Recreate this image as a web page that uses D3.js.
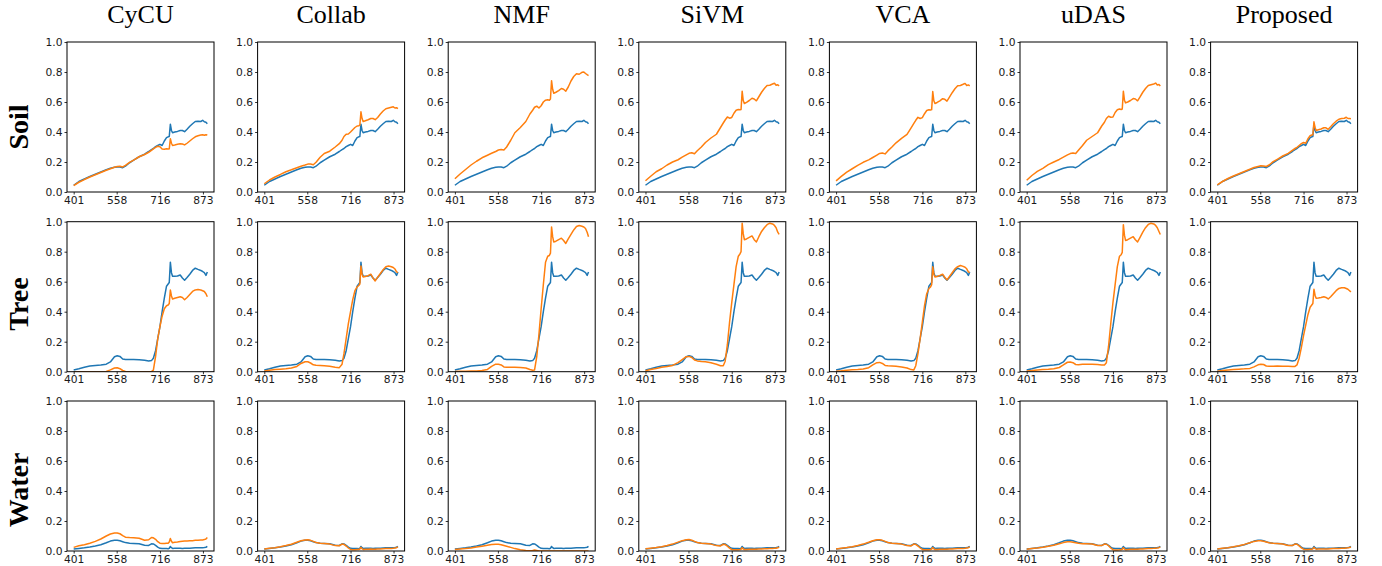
<!DOCTYPE html>
<html>
<head>
<meta charset="utf-8">
<script src="https://cdn.jsdelivr.net/npm/d3@7"></script>
<style>
  html, body { margin: 0; padding: 0; background: #fff; }
  svg { display: block; }
</style>
</head>
<body>
<svg id="chart" width="1382" height="566"></svg>
<script>
// Spectral bands (nm) at which each endmember signature is sampled
const wavelengths = [401, 420, 440, 460, 480, 500, 520, 535, 550, 560, 570, 580, 590, 605, 620, 640, 660, 675, 685, 692,
  700, 708, 716, 724, 732, 740, 746, 750, 754, 758, 762, 770, 780, 790, 798, 806, 815, 825, 835, 845,
  855, 865, 872, 878, 884, 889];

const methods = ["CyCU", "Collab", "NMF", "SiVM", "VCA", "uDAS", "Proposed"];
const materials = ["Soil", "Tree", "Water"];
const xTickValues = [401, 558, 716, 873];
const yTickValues = [0, 0.2, 0.4, 0.6, 0.8, 1.0];

// Reference signatures (blue)
const soilReference = [0.045, 0.07, 0.087, 0.103, 0.118, 0.133, 0.148, 0.158, 0.165, 0.167, 0.166, 0.162, 0.172, 0.195, 0.212, 0.235, 0.252, 0.27, 0.283, 0.29,
  0.302, 0.31, 0.318, 0.31, 0.34, 0.362, 0.368, 0.37, 0.452, 0.41, 0.395, 0.4, 0.404, 0.41, 0.41, 0.402, 0.418, 0.438, 0.455, 0.47,
  0.472, 0.47, 0.478, 0.468, 0.465, 0.455];
const treeReference = [0.012, 0.02, 0.03, 0.038, 0.042, 0.045, 0.05, 0.065, 0.1, 0.106, 0.102, 0.085, 0.082, 0.082, 0.081, 0.079, 0.076, 0.071, 0.074, 0.09,
  0.14, 0.22, 0.3, 0.4, 0.49, 0.57, 0.585, 0.595, 0.73, 0.66, 0.636, 0.636, 0.638, 0.645, 0.625, 0.61, 0.628, 0.65, 0.675, 0.69,
  0.682, 0.675, 0.668, 0.66, 0.642, 0.665];
const waterReference = [0.013, 0.017, 0.021, 0.027, 0.034, 0.042, 0.055, 0.066, 0.072, 0.072, 0.068, 0.062, 0.056, 0.051, 0.05, 0.048, 0.038, 0.037, 0.048, 0.047,
  0.038, 0.026, 0.018, 0.016, 0.016, 0.016, 0.015, 0.018, 0.03, 0.022, 0.017, 0.018, 0.018, 0.019, 0.017, 0.018, 0.018, 0.019, 0.02, 0.021,
  0.021, 0.022, 0.022, 0.023, 0.025, 0.031];

// Estimated signatures (orange), soil
const soilCyCU = [0.042, 0.065, 0.083, 0.1, 0.115, 0.13, 0.145, 0.155, 0.165, 0.17, 0.171, 0.167, 0.178, 0.198, 0.213, 0.235, 0.25, 0.265, 0.277, 0.287,
  0.297, 0.305, 0.302, 0.287, 0.285, 0.288, 0.286, 0.288, 0.355, 0.325, 0.31, 0.313, 0.318, 0.322, 0.32, 0.314, 0.325, 0.34, 0.355, 0.368,
  0.375, 0.38, 0.382, 0.378, 0.382, 0.38];
const soilCollab = [0.055, 0.08, 0.1, 0.117, 0.135, 0.148, 0.162, 0.172, 0.18, 0.186, 0.186, 0.182, 0.198, 0.232, 0.257, 0.272, 0.3, 0.322, 0.345, 0.37,
  0.385, 0.387, 0.4, 0.415, 0.43, 0.44, 0.442, 0.445, 0.535, 0.49, 0.47, 0.475, 0.482, 0.49, 0.49, 0.482, 0.497, 0.52, 0.54, 0.555,
  0.56, 0.565, 0.568, 0.56, 0.562, 0.556];
const soilNMF = [0.088, 0.12, 0.15, 0.18, 0.205, 0.228, 0.245, 0.258, 0.27, 0.28, 0.283, 0.28, 0.3, 0.345, 0.395, 0.43, 0.47, 0.52, 0.545, 0.565,
  0.572, 0.56, 0.575, 0.6, 0.612, 0.615, 0.612, 0.62, 0.742, 0.685, 0.658, 0.665, 0.676, 0.69, 0.685, 0.672, 0.7, 0.74, 0.77, 0.788,
  0.785, 0.798, 0.8, 0.79, 0.782, 0.776];
const soilSiVM = [0.075, 0.105, 0.135, 0.155, 0.18, 0.2, 0.215, 0.232, 0.248, 0.258, 0.262, 0.255, 0.275, 0.3, 0.33, 0.36, 0.385, 0.43, 0.46, 0.48,
  0.5, 0.492, 0.497, 0.525, 0.545, 0.55, 0.548, 0.55, 0.672, 0.61, 0.59, 0.598, 0.61, 0.625, 0.62, 0.608, 0.635, 0.665, 0.69, 0.71,
  0.712, 0.72, 0.725, 0.712, 0.715, 0.708];
const soilVCA = [0.074, 0.104, 0.133, 0.155, 0.178, 0.198, 0.214, 0.23, 0.246, 0.257, 0.26, 0.254, 0.274, 0.3, 0.328, 0.358, 0.384, 0.428, 0.458, 0.478,
  0.498, 0.49, 0.496, 0.522, 0.543, 0.548, 0.546, 0.549, 0.67, 0.608, 0.59, 0.597, 0.608, 0.622, 0.618, 0.606, 0.632, 0.662, 0.688, 0.708,
  0.71, 0.718, 0.724, 0.71, 0.714, 0.707];
const soilUDAS = [0.078, 0.11, 0.137, 0.158, 0.182, 0.2, 0.217, 0.232, 0.247, 0.256, 0.26, 0.256, 0.278, 0.31, 0.345, 0.37, 0.395, 0.44, 0.465, 0.49,
  0.505, 0.498, 0.5, 0.53, 0.548, 0.553, 0.55, 0.553, 0.672, 0.612, 0.594, 0.6, 0.61, 0.623, 0.62, 0.608, 0.634, 0.665, 0.69, 0.71,
  0.715, 0.72, 0.726, 0.714, 0.716, 0.706];
const soilProposed = [0.048, 0.07, 0.09, 0.107, 0.122, 0.137, 0.152, 0.163, 0.17, 0.175, 0.174, 0.17, 0.18, 0.202, 0.218, 0.24, 0.258, 0.278, 0.29, 0.298,
  0.31, 0.322, 0.33, 0.325, 0.355, 0.375, 0.38, 0.382, 0.468, 0.43, 0.41, 0.415, 0.42, 0.428, 0.428, 0.418, 0.435, 0.455, 0.472, 0.485,
  0.49, 0.492, 0.498, 0.49, 0.49, 0.488];

// Estimated signatures (orange), tree
const treeCyCU = [0, 0, 0, 0, 0, 0, 0.002, 0.012, 0.025, 0.026, 0.02, 0.008, 0.002, 0, 0, 0, 0, 0, 0, 0.01,
  0.1, 0.22, 0.3, 0.37, 0.42, 0.44, 0.445, 0.455, 0.545, 0.505, 0.485, 0.49, 0.495, 0.5, 0.495, 0.48, 0.495, 0.515, 0.535, 0.545,
  0.548, 0.545, 0.54, 0.535, 0.52, 0.5];
const treeCollab = [0.005, 0.01, 0.014, 0.017, 0.02, 0.025, 0.035, 0.055, 0.066, 0.066, 0.058, 0.046, 0.043, 0.042, 0.04, 0.036, 0.03, 0.027, 0.05, 0.12,
  0.22, 0.32, 0.4, 0.48, 0.54, 0.565, 0.575, 0.585, 0.705, 0.65, 0.632, 0.635, 0.64, 0.65, 0.625, 0.605, 0.63, 0.655, 0.68, 0.7,
  0.705, 0.7, 0.695, 0.685, 0.665, 0.66];
const treeNMF = [0.002, 0.003, 0.003, 0.004, 0.005, 0.008, 0.015, 0.035, 0.05, 0.05, 0.045, 0.032, 0.029, 0.03, 0.03, 0.028, 0.025, 0.015, 0.01, 0.012,
  0.1, 0.25, 0.42, 0.58, 0.73, 0.77, 0.775, 0.79, 0.965, 0.9, 0.865, 0.87, 0.88, 0.89, 0.875, 0.855, 0.885, 0.915, 0.945, 0.968,
  0.975, 0.97, 0.965, 0.955, 0.93, 0.9];
const treeSiVM = [0.007, 0.015, 0.022, 0.03, 0.035, 0.042, 0.06, 0.08, 0.1, 0.102, 0.095, 0.078, 0.072, 0.068, 0.066, 0.06, 0.05, 0.04, 0.04, 0.07,
  0.18, 0.33, 0.46, 0.58, 0.7, 0.77, 0.785, 0.8, 0.99, 0.92, 0.88, 0.885, 0.895, 0.905, 0.88, 0.865, 0.9, 0.935, 0.96, 0.98,
  0.99, 0.985, 0.975, 0.96, 0.93, 0.915];
const treeVCA = [0.003, 0.006, 0.01, 0.013, 0.015, 0.018, 0.027, 0.045, 0.06, 0.062, 0.055, 0.042, 0.04, 0.038, 0.036, 0.032, 0.025, 0.014, 0.012, 0.04,
  0.12, 0.22, 0.33, 0.44, 0.52, 0.555, 0.565, 0.58, 0.7, 0.65, 0.632, 0.635, 0.642, 0.65, 0.63, 0.612, 0.635, 0.66, 0.685, 0.7,
  0.708, 0.702, 0.696, 0.686, 0.666, 0.66];
const treeUDAS = [0.005, 0.008, 0.012, 0.015, 0.017, 0.02, 0.028, 0.045, 0.063, 0.065, 0.06, 0.048, 0.047, 0.05, 0.05, 0.05, 0.048, 0.045, 0.045, 0.06,
  0.17, 0.32, 0.46, 0.58, 0.7, 0.77, 0.78, 0.795, 0.98, 0.91, 0.875, 0.88, 0.89, 0.9, 0.88, 0.865, 0.895, 0.93, 0.96, 0.982,
  0.99, 0.985, 0.975, 0.96, 0.935, 0.915];
const treeProposed = [0.003, 0.008, 0.012, 0.015, 0.017, 0.019, 0.022, 0.032, 0.046, 0.05, 0.048, 0.038, 0.036, 0.037, 0.038, 0.037, 0.036, 0.035, 0.035, 0.045,
  0.09, 0.16, 0.24, 0.31, 0.38, 0.43, 0.445, 0.455, 0.55, 0.51, 0.49, 0.492, 0.495, 0.5, 0.495, 0.485, 0.5, 0.52, 0.54, 0.555,
  0.56, 0.56, 0.555, 0.55, 0.54, 0.532];

// Estimated signatures (orange), water
const waterCyCU = [0.024, 0.035, 0.042, 0.052, 0.064, 0.08, 0.1, 0.113, 0.12, 0.12, 0.115, 0.103, 0.092, 0.09, 0.089, 0.085, 0.072, 0.075, 0.09, 0.088,
  0.078, 0.062, 0.052, 0.05, 0.05, 0.052, 0.052, 0.06, 0.083, 0.065, 0.055, 0.058, 0.06, 0.063, 0.065, 0.066, 0.067, 0.068, 0.069, 0.071,
  0.072, 0.074, 0.074, 0.076, 0.08, 0.09];
const waterCollab = [0.014, 0.018, 0.022, 0.028, 0.036, 0.045, 0.058, 0.068, 0.074, 0.075, 0.071, 0.064, 0.057, 0.052, 0.05, 0.046, 0.036, 0.035, 0.046, 0.044,
  0.033, 0.02, 0.01, 0.008, 0.008, 0.01, 0.01, 0.013, 0.024, 0.015, 0.01, 0.011, 0.012, 0.013, 0.012, 0.012, 0.013, 0.014, 0.015, 0.016,
  0.016, 0.017, 0.018, 0.02, 0.022, 0.028];
const waterNMF = [0.01, 0.013, 0.016, 0.02, 0.026, 0.032, 0.038, 0.043, 0.045, 0.045, 0.042, 0.037, 0.032, 0.024, 0.016, 0.009, 0.004, 0.002, 0.003, 0.006,
  0.003, 0, 0, 0, 0, 0, 0, 0, 0, 0, 0, 0, 0, 0, 0, 0, 0, 0, 0, 0,
  0, 0, 0, 0, 0, 0];
const waterSiVM = [0.015, 0.019, 0.023, 0.029, 0.037, 0.046, 0.059, 0.069, 0.075, 0.076, 0.072, 0.064, 0.057, 0.052, 0.05, 0.046, 0.036, 0.034, 0.045, 0.043,
  0.032, 0.019, 0.01, 0.008, 0.008, 0.009, 0.01, 0.012, 0.022, 0.014, 0.01, 0.01, 0.011, 0.012, 0.012, 0.012, 0.013, 0.014, 0.015, 0.015,
  0.016, 0.017, 0.018, 0.019, 0.021, 0.026];
const waterVCA = [0.014, 0.018, 0.023, 0.029, 0.037, 0.046, 0.058, 0.068, 0.075, 0.075, 0.071, 0.064, 0.057, 0.052, 0.05, 0.046, 0.036, 0.034, 0.046, 0.044,
  0.033, 0.02, 0.01, 0.008, 0.008, 0.009, 0.01, 0.013, 0.023, 0.014, 0.01, 0.01, 0.011, 0.012, 0.012, 0.012, 0.013, 0.014, 0.015, 0.016,
  0.016, 0.017, 0.018, 0.02, 0.022, 0.027];
const waterUDAS = [0.012, 0.016, 0.02, 0.025, 0.031, 0.038, 0.048, 0.056, 0.061, 0.062, 0.059, 0.055, 0.051, 0.049, 0.048, 0.046, 0.037, 0.036, 0.046, 0.045,
  0.035, 0.02, 0.009, 0.007, 0.007, 0.008, 0.009, 0.012, 0.022, 0.013, 0.009, 0.01, 0.011, 0.012, 0.011, 0.012, 0.013, 0.014, 0.015, 0.016,
  0.017, 0.018, 0.019, 0.02, 0.022, 0.027];
const waterProposed = [0.014, 0.018, 0.022, 0.028, 0.035, 0.044, 0.055, 0.064, 0.068, 0.068, 0.065, 0.06, 0.055, 0.051, 0.05, 0.047, 0.037, 0.036, 0.046, 0.045,
  0.034, 0.021, 0.012, 0.01, 0.01, 0.011, 0.011, 0.014, 0.024, 0.016, 0.012, 0.013, 0.013, 0.014, 0.014, 0.014, 0.015, 0.016, 0.017, 0.017,
  0.018, 0.019, 0.02, 0.021, 0.023, 0.027];

const references = [soilReference, treeReference, waterReference];
const estimates = [
  [soilCyCU, soilCollab, soilNMF, soilSiVM, soilVCA, soilUDAS, soilProposed],
  [treeCyCU, treeCollab, treeNMF, treeSiVM, treeVCA, treeUDAS, treeProposed],
  [waterCyCU, waterCollab, waterNMF, waterSiVM, waterVCA, waterUDAS, waterProposed]
];

// Layout
const panelW = 147, panelH = 150;
const colStart = 67, colStep = 190.6;
const rowTops = [42, 221.7, 401];
const rowLabelCenters = [127, 304, 490];
const blue = "#1f77b4", orange = "#ff7f0e";

const svg = d3.select("#chart");

const wMin = d3.min(wavelengths), wMax = d3.max(wavelengths);
const pad = (wMax - wMin) * 0.05;
const x = d3.scaleLinear().domain([wMin - pad, wMax + pad]).range([0, panelW]);
const y = d3.scaleLinear().domain([0, 1]).range([panelH, 0]);

const line = d3.line()
  .x((d, i) => x(wavelengths[i]))
  .y(d => y(d));

// Method titles
methods.forEach((m, c) => {
  svg.append("text")
    .attr("x", colStart + c * colStep + panelW / 2)
    .attr("y", 23)
    .attr("text-anchor", "middle")
    .attr("font-family", "'Liberation Serif', 'Times New Roman', serif")
    .attr("font-size", 26)
    .attr("fill", "#000")
    .text(m);
});

// Material labels
materials.forEach((name, r) => {
  svg.append("text")
    .attr("transform", `translate(28,${rowLabelCenters[r]}) rotate(-90)`)
    .attr("text-anchor", "middle")
    .attr("font-family", "'Liberation Serif', 'Times New Roman', serif")
    .attr("font-weight", "bold")
    .attr("font-size", 28)
    .attr("fill", "#000")
    .text(name);
});

materials.forEach((name, r) => {
  methods.forEach((m, c) => {
    const g = svg.append("g")
      .attr("transform", `translate(${colStart + c * colStep},${rowTops[r]})`);

    const clipId = `clip-${r}-${c}`;
    g.append("clipPath").attr("id", clipId)
      .append("rect").attr("x", 0).attr("y", -1).attr("width", panelW).attr("height", panelH + 1);

    const plot = g.append("g").attr("clip-path", `url(#${clipId})`);
    plot.append("path")
      .datum(references[r])
      .attr("d", line)
      .attr("fill", "none")
      .attr("stroke", blue)
      .attr("stroke-width", 1.5)
      .attr("stroke-linejoin", "round");
    plot.append("path")
      .datum(estimates[r][c])
      .attr("d", line)
      .attr("fill", "none")
      .attr("stroke", orange)
      .attr("stroke-width", 1.5)
      .attr("stroke-linejoin", "round");

    const xAxis = d3.axisBottom(x).tickValues(xTickValues).tickSize(2.5).tickPadding(1.5).tickFormat(d3.format("d"));
    const yAxis = d3.axisLeft(y).tickValues(yTickValues).tickSize(2.5).tickPadding(2).tickFormat(d3.format(".1f"));

    const gx = g.append("g").attr("transform", `translate(0,${panelH})`).call(xAxis);
    const gy = g.append("g").call(yAxis);
    [gx, gy].forEach(a => {
      a.select(".domain").remove();
      a.selectAll("line").attr("stroke", "#000").attr("stroke-width", 0.8);
      a.selectAll("text")
        .attr("font-family", "'DejaVu Sans', sans-serif")
        .attr("font-size", 10.7)
        .attr("fill", "#1a1a1a");
    });

    g.append("rect")
      .attr("x", 0).attr("y", 0)
      .attr("width", panelW).attr("height", panelH)
      .attr("fill", "none")
      .attr("stroke", "#000")
      .attr("stroke-width", 1);
  });
});
</script>
</body>
</html>
